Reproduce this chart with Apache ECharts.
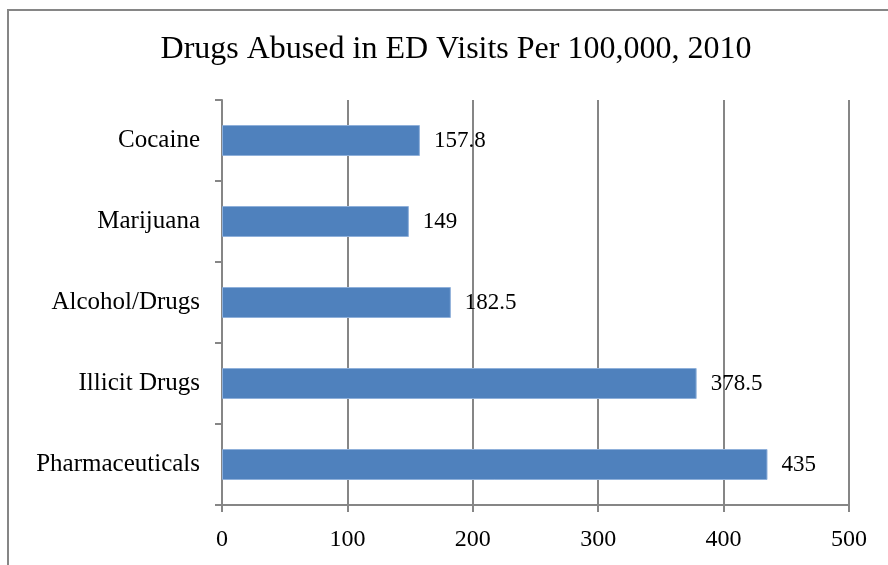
<!DOCTYPE html>
<html>
<head>
<meta charset="utf-8">
<script src="https://cdn.jsdelivr.net/npm/echarts@6/dist/echarts.min.js"></script>
<style>
  html, body { margin: 0; padding: 0; background: #fff; }
  #chart { width: 888px; height: 565px; }
</style>
</head>
<body>
<div id="chart"></div>
<script>
// Emergency department visits involving drug misuse, rate per 100,000 (2010)
const categories = ['Cocaine', 'Marijuana', 'Alcohol/Drugs', 'Illicit Drugs', 'Pharmaceuticals'];
const visitsPer100k = [157.8, 149, 182.5, 378.5, 435];
const xTicks = [0, 100, 200, 300, 400, 500];

const serif = '"Liberation Serif", "Times New Roman", serif';
const gray = '#868686';

const chart = echarts.init(document.getElementById('chart'));
chart.setOption({
  animation: false,
  backgroundColor: '#fff',
  graphic: [{
    type: 'rect',
    shape: { x: 8, y: 10, width: 900, height: 600 },
    style: { fill: 'none', stroke: gray, lineWidth: 2 },
    silent: true
  }],
  title: {
    text: 'Drugs Abused in ED Visits Per 100,000, 2010',
    left: 451,
    textAlign: 'center',
    top: 29,
    textStyle: { fontFamily: serif, fontSize: 32, fontWeight: 'normal', color: '#000' }
  },
  grid: { left: 222, right: 39, top: 100, bottom: 60, containLabel: false },
  xAxis: {
    type: 'value',
    min: xTicks[0],
    max: xTicks[xTicks.length - 1],
    interval: 100,
    axisLine: { show: true, lineStyle: { color: gray, width: 2 } },
    axisTick: { show: true, length: 7, lineStyle: { color: gray, width: 2 } },
    splitLine: { show: true, lineStyle: { color: gray, width: 2 } },
    axisLabel: { fontFamily: serif, fontSize: 24, color: '#000', margin: 23 }
  },
  yAxis: {
    type: 'category',
    data: categories,
    inverse: true,
    axisLine: { show: true, lineStyle: { color: gray, width: 2 } },
    axisTick: { show: true, length: 7, lineStyle: { color: gray, width: 2 } },
    axisLabel: { fontFamily: serif, fontSize: 25, color: '#000', margin: 22 }
  },
  series: [{
    type: 'bar',
    data: visitsPer100k,
    barWidth: 31,
    itemStyle: { color: '#4F81BD', borderColor: '#8FB0DA', borderWidth: 1 },
    label: {
      show: true,
      position: 'right',
      distance: 14,
      fontFamily: serif,
      fontSize: 23,
      color: '#000'
    }
  }]
});
</script>
</body>
</html>
